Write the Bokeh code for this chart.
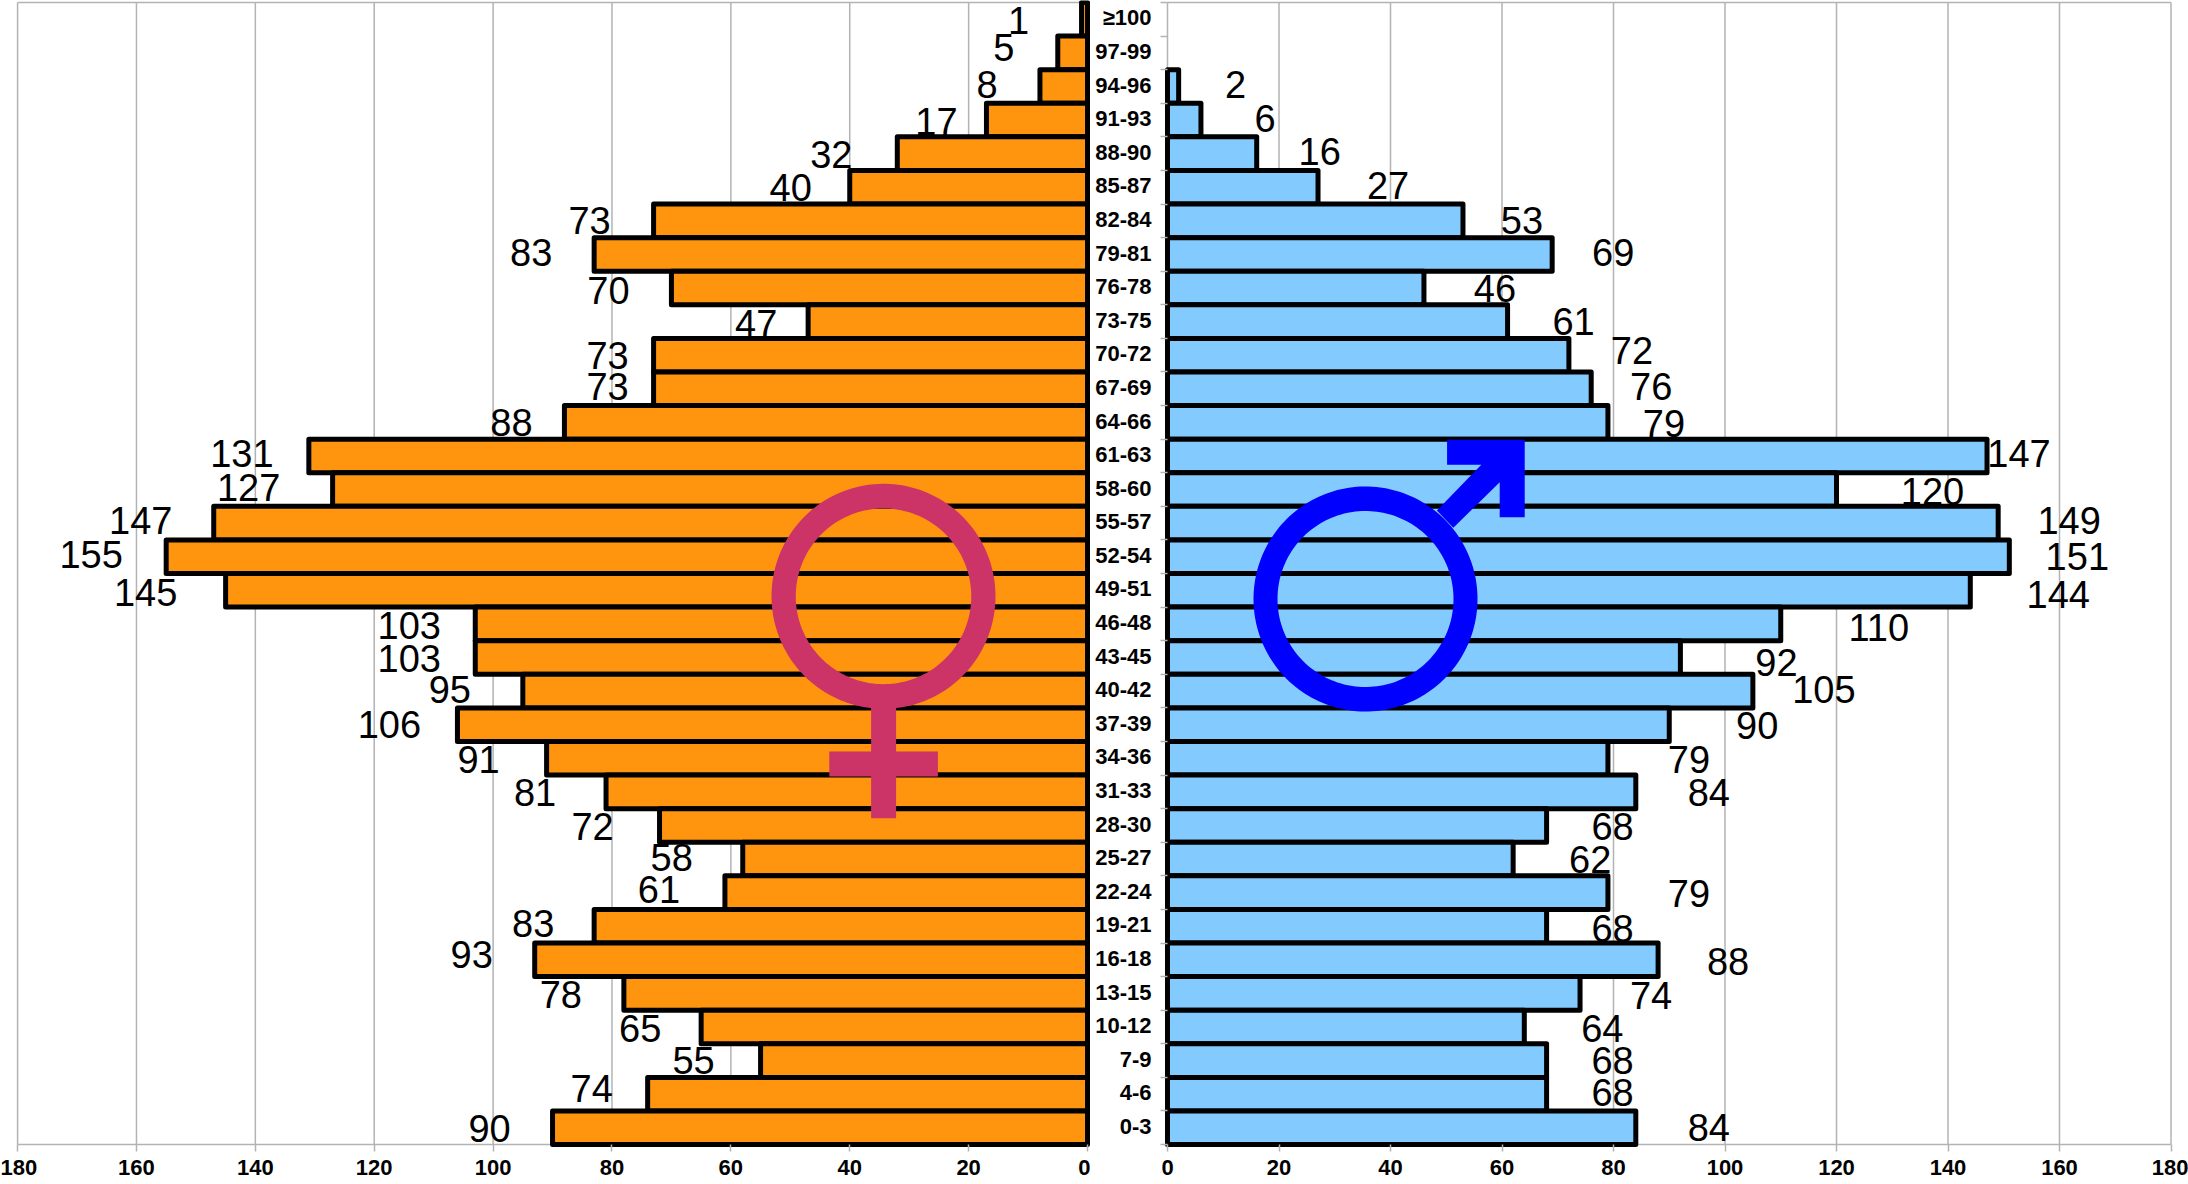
import numpy as np
from bokeh.plotting import figure
from bokeh.layouts import row
from bokeh.models import Range1d, FixedTicker, ColumnDataSource
from bokeh.core.properties import value
from bokeh.embed import file_html
from bokeh.resources import INLINE

age_groups = ["≥100","97-99","94-96","91-93","88-90","85-87","82-84","79-81","76-78","73-75","70-72","67-69",
              "64-66","61-63","58-60","55-57","52-54","49-51","46-48","43-45","40-42","37-39","34-36","31-33",
              "28-30","25-27","22-24","19-21","16-18","13-15","10-12","7-9","4-6","0-3"]
women = [1,5,8,17,32,40,73,83,70,47,73,73,88,131,127,147,155,145,103,103,95,106,91,81,72,58,61,83,93,78,65,55,74,90]
men = [0,0,2,6,16,27,53,69,46,61,72,76,79,147,120,149,151,144,110,92,105,90,79,84,68,62,79,68,88,74,64,68,68,84]
x_ticks = [0,20,40,60,80,100,120,140,160,180]

# hand placement of the value labels, in screen pixels from the bar end / row centre
women_gap = [63,54,53,50,66,59,64,63,63,52,46,46,53,67,84,73,75,80,66,66,73,68,68,71,67,71,66,61,63,63,61,67,56,63]
women_dy = [1,-5,-2,1,1,0,0,-2,2,2,0,-2,0,-2,-2,-3,-2,2,2,1,-2,0,1,1,1,-2,-3,-3,-5,1,2,0,-6,1]
men_gap = [0,0,57,64,63,70,59,61,71,66,63,60,56,32,96,71,68,88,98,96,71,88,81,73,66,77,81,66,70,71,78,66,66,73]
men_dy = [0,0,-2,-2,-2,-2,0,-2,0,0,-5,-2,1,-2,2,-3,0,4,4,5,-2,1,1,1,1,0,1,2,2,2,2,0,-2,0]

ROW_H = 33.59
TOP = 2.0
FRAME_BOTTOM = 1147.0
ROWS = len(age_groups)
y_top = ROWS - 0.5 + TOP / ROW_H
y_bottom = -0.5 - (FRAME_BOTTOM - TOP - ROWS * ROW_H) / ROW_H
rows = [ROWS - 1 - i for i in range(ROWS)]

L0, LS = 1087.0, 5.944
R0, RS = 1167.0, 5.575
L_FRAME = (14.0, 1090.0)
R_FRAME = (1164.0, 2172.0)

def lx(px):
    return (L0 - np.asarray(px, dtype=float)) / LS
def rx(px):
    return (np.asarray(px, dtype=float) - R0) / RS
def yy(px):
    return ROWS - 0.5 - (np.asarray(px, dtype=float) - TOP) / ROW_H

GRID = "#B3B3B3"
FONT = "Liberation Sans"

def base(width, x_range, border_l, border_r):
    p = figure(width=width, height=1184, output_backend="svg", toolbar_location=None,
               x_range=x_range, y_range=Range1d(y_bottom, y_top),
               min_border_left=border_l, min_border_right=border_r,
               min_border_top=0, min_border_bottom=int(1184 - FRAME_BOTTOM),
               outline_line_color=None, background_fill_color="white", border_fill_color=None)
    p.grid.visible = False
    a = p.xaxis[0]
    a.ticker = FixedTicker(ticks=x_ticks)
    a.axis_line_color = None
    a.major_tick_line_color = GRID
    a.major_tick_line_width = 1.5
    a.major_tick_in = 3
    a.major_tick_out = 4
    a.minor_tick_line_color = None
    a.major_label_standoff = 8
    a.major_label_text_font = FONT
    a.major_label_text_font_style = "bold"
    a.major_label_text_font_size = "22px"
    a.major_label_text_color = "black"
    a.major_label_orientation = "horizontal"
    # grid and frame lines
    ends = [-0.5, ROWS - 0.5]
    p.segment(x0=x_ticks, x1=x_ticks, y0=[ends[0]] * len(x_ticks), y1=[ends[1]] * len(x_ticks),
              line_color=GRID, line_width=1.5)
    p.segment(x0=[0, 0], x1=[180, 180], y0=ends, y1=ends, line_color=GRID, line_width=1.5)
    return p

def labels(p, vals, gaps, dys, sign):
    keep = [i for i, v in enumerate(vals) if v > 0]
    src = ColumnDataSource(dict(
        x=[vals[i] for i in keep], y=[rows[i] for i in keep],
        t=[str(vals[i]) for i in keep],
        xo=[sign * gaps[i] for i in keep], yo=[dys[i] for i in keep]))
    p.text(x="x", y="y", text="t", x_offset="xo", y_offset="yo", source=src,
           text_font=value(FONT), text_font_size="38px", text_color="black",
           text_align="center", text_baseline="middle")

def bars(p, vals, color):
    keep = [i for i, v in enumerate(vals) if v > 0]
    p.hbar(y=[rows[i] for i in keep], left=0, right=[vals[i] for i in keep], height=1.0,
           fill_color=color, line_color="black", line_width=5, line_join="round")

def ring(cx, cy, w_o, h_o, w_i, h_i, fx):
    t = np.linspace(0, 2 * np.pi, 180)
    ox = fx(cx + w_o / 2 * np.cos(t)); oy = yy(cy + h_o / 2 * np.sin(t))
    ix = fx(cx + w_i / 2 * np.cos(t)); iy = yy(cy + h_i / 2 * np.sin(t))
    return [[[list(ox), list(ix)]]], [[[list(oy), list(iy)]]]

# ---------- women (left)
left = base(1090, Range1d((L0 - L_FRAME[0]) / LS, (L0 - L_FRAME[1]) / LS), 14, 0)
left.yaxis.visible = False
labels(left, women, women_gap, women_dy, -1)
bars(left, women, "#FF950E")
PINK = "#CC3366"
xs, ys = ring(883, 595.8, 224, 225, 175.5, 175.7, lx)
left.multi_polygons(xs=xs, ys=ys, fill_color=PINK, line_color=None)
stem_x = [870.6, 895.6, 895.6, 870.6]; stem_y = [705, 705, 817.7, 817.7]
bar_x = [828.8, 937.4, 937.4, 828.8]; bar_y = [751, 751, 776, 776]
left.patch(list(lx(stem_x)), list(yy(stem_y)), fill_color=PINK, line_color=None)
left.patch(list(lx(bar_x)), list(yy(bar_y)), fill_color=PINK, line_color=None)

# ---------- men (right)
right = base(1098, Range1d((R_FRAME[0] - R0) / RS, (R_FRAME[1] - R0) / RS), 74, 16)
a = right.yaxis[0]
boundaries = [r - 0.5 for r in rows] + [ROWS - 0.5]
label_rows = [r + 0.04 for r in rows]
a.ticker = FixedTicker(ticks=label_rows, minor_ticks=boundaries)
a.major_label_overrides = {r: g for r, g in zip(label_rows, age_groups)}
a.axis_line_color = None
a.major_tick_line_color = None
a.major_tick_in = 0
a.major_tick_out = 0
a.minor_tick_line_color = GRID
a.minor_tick_line_width = 1.5
a.minor_tick_in = 3
a.minor_tick_out = 4
a.major_label_standoff = 9
a.major_label_text_font = FONT
a.major_label_text_font_style = "bold"
a.major_label_text_font_size = "22px"
a.major_label_text_color = "black"
labels(right, men, men_gap, men_dy, 1)
bars(right, men, "#83CAFF")
BLUE = "#0000FF"
xs, ys = ring(1365, 598.5, 224, 225, 176, 176, rx)
right.multi_polygons(xs=xs, ys=ys, fill_color=BLUE, line_color=None)
arrow_x = [1446.6, 1524.2, 1524.2, 1499.2, 1499.2, 1452.8, 1436.4, 1480.8, 1446.6]
arrow_y = [439.3, 439.3, 516.7, 516.7, 481.7, 527.3, 510.0, 464.3, 464.3]
right.patch(list(rx(arrow_x)), list(yy(arrow_y)), fill_color=BLUE, line_color=None)

page = row(left, right, spacing=0)
open("out.html", "w").write(file_html(page, INLINE))
